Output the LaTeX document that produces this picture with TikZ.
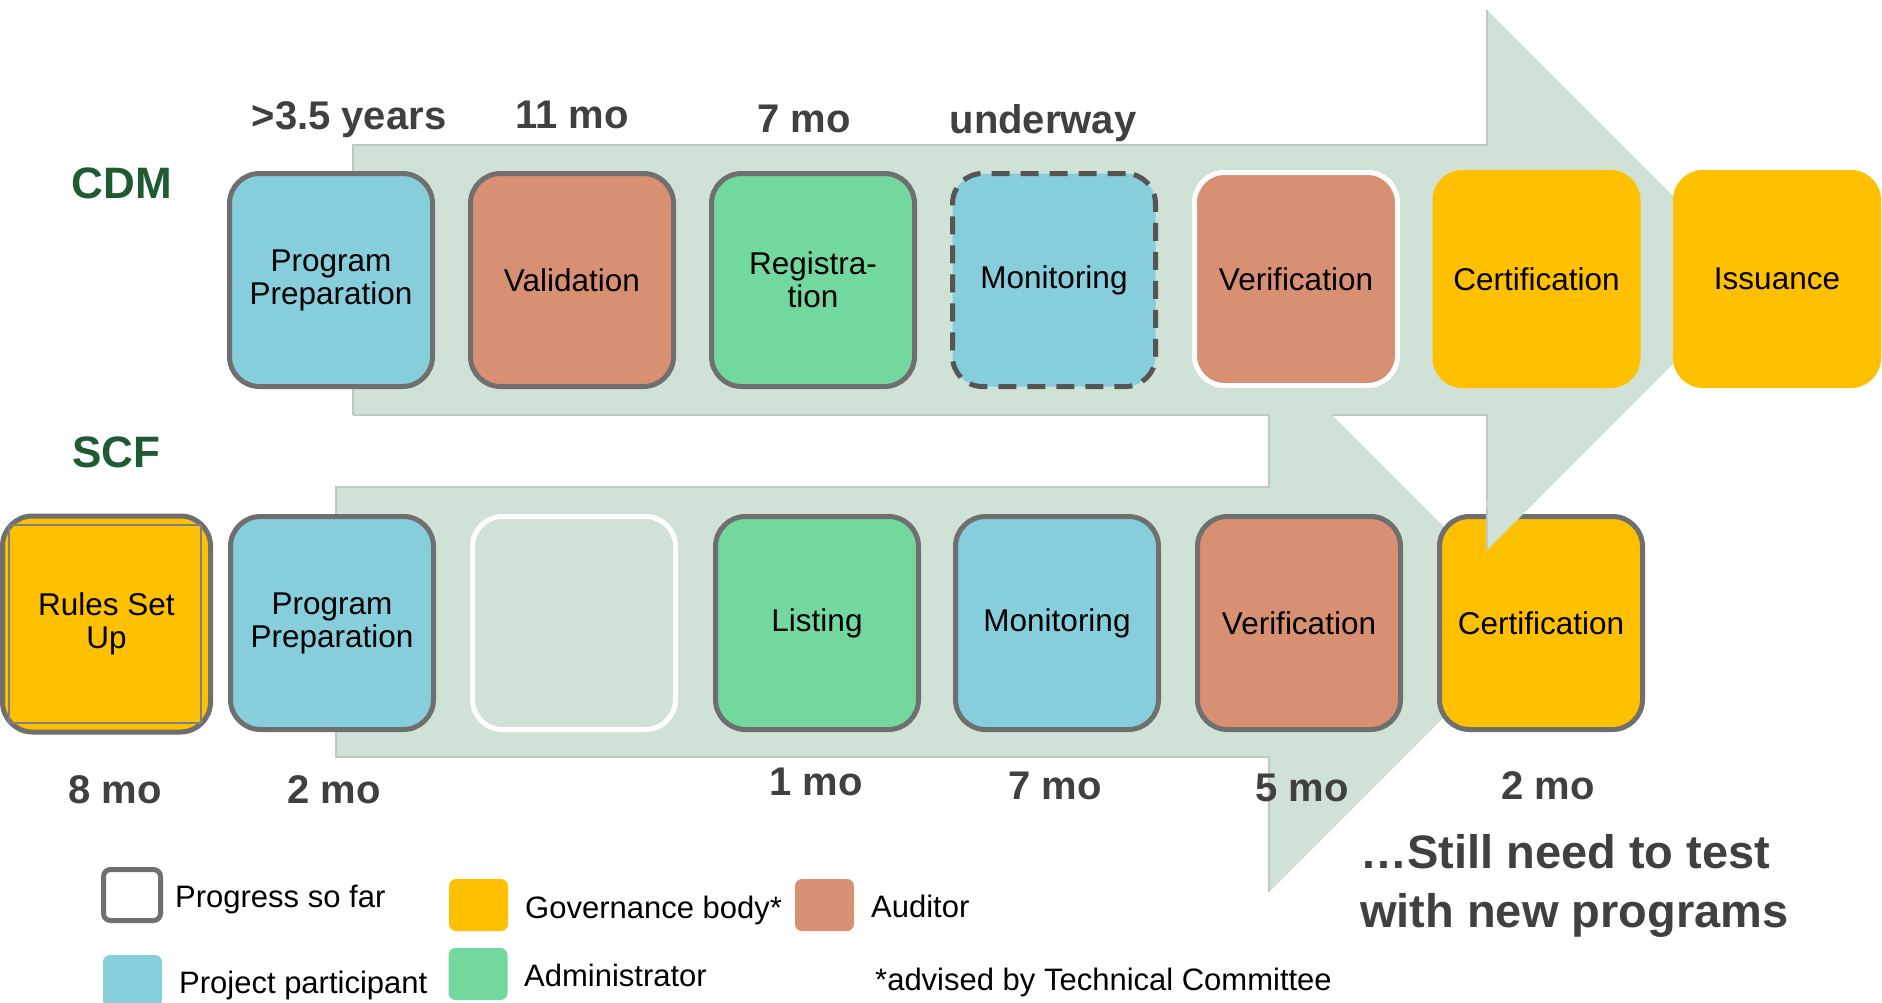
\documentclass[tikz,border=0pt]{standalone}
\usepackage{fontspec}
\setmainfont{Liberation Sans}
\definecolor{pblue}{HTML}{86CEDB}
\definecolor{salmon}{HTML}{D89072}
\definecolor{agreen}{HTML}{73D89D}
\definecolor{gold}{HTML}{FFC000}
\definecolor{arrowfill}{HTML}{CFE2D5}
\definecolor{arrowline}{HTML}{BCCAC1}
\definecolor{bordergray}{HTML}{6F6F6F}
\definecolor{dashgray}{HTML}{555555}
\definecolor{labelgray}{HTML}{404040}
\definecolor{cdmgreen}{HTML}{1E5A32}
\definecolor{innergray}{HTML}{808080}
\tikzset{
  box/.style={rounded corners=30pt, minimum width=203pt, minimum height=213pt,
    inner sep=0pt, align=center, font=\fontsize{31.5}{33}\selectfont, text=black},
  grayb/.style={draw=bordergray, line width=5pt},
  whiteb/.style={draw=white, line width=5pt},
  dashb/.style={draw=dashgray, line width=5pt, dash pattern=on 18pt off 11pt},
  nob/.style={minimum width=208pt, minimum height=218pt},
  dur/.style={font=\bfseries\fontsize{40}{44}\selectfont, text=labelgray, anchor=base, inner sep=0pt},
  rowlab/.style={font=\bfseries\fontsize{44}{48}\selectfont, text=cdmgreen, anchor=base, inner sep=0pt},
  note/.style={font=\bfseries\fontsize{47}{52}\selectfont, text=labelgray, anchor=base west, inner sep=0pt},
  legtext/.style={font=\fontsize{31}{34}\selectfont, text=black, anchor=base west, inner sep=0pt},
  legbox/.style={rounded corners=7pt, inner sep=0pt, minimum width=59pt, minimum height=52pt},
  aline/.style={draw=arrowline, line width=1.2pt},
}
\begin{document}
\begin{tikzpicture}[x=1pt,y=-1pt]
\useasboundingbox (0,0) rectangle (1882,1002);
\fill[white] (0,0) rectangle (1882,1002);

% big arrows
\fill[arrowfill] (353,145) -- (1487,145) -- (1487,10) -- (1757,280) -- (1487,550) -- (1487,415) -- (353,415) -- cycle;
\fill[arrowfill] (336,487) -- (1269,487) -- (1269,352) -- (1539,622) -- (1269,892) -- (1269,757) -- (336,757) -- cycle;
\draw[aline] (353,415) -- (353,145) -- (1487,145) -- (1487,10);
\draw[aline] (353,415) -- (1269,415);
\draw[aline] (1332,415) -- (1487,415) -- (1487,550);
\draw[aline] (1269,415) -- (1269,487) -- (336,487) -- (336,757) -- (1269,757) -- (1269,892);

% SCF row
\node[box, grayb, fill=gold, minimum width=208pt, minimum height=216pt] (s1) at (106.5,624) {Rules Set\\Up};
\draw[innergray, line width=1.5pt] (9,525) rectangle (201,723);
\node[box, grayb, fill=pblue] (s2) at (332,623) {Program\\Preparation};
\node[box, whiteb] (s3) at (574,623) {};
\node[box, grayb, fill=agreen] (s4) at (817,623) {Listing};
\node[box, grayb, fill=pblue] (s5) at (1057,623) {Monitoring};
\node[box, grayb, fill=salmon] (s6) at (1299,623) {Verification};
\node[box, grayb, fill=gold] (s7) at (1541,623) {Certification};

% top arrowhead corner overlapping the SCF certification box
\fill[arrowfill] (1487,500) -- (1537,500) -- (1487,550) -- cycle;
\draw[aline] (1487,508) -- (1487,550);

% CDM row
\node[box, grayb, fill=pblue] (c1) at (331,280) {Program\\Preparation};
\node[box, grayb, fill=salmon] (c2) at (572,280) {Validation};
\node[box, grayb, fill=agreen] (c3) at (813,280) {Registra-\\tion};
\node[box, dashb, fill=pblue] (c4) at (1054,280) {Monitoring};
\node[box, whiteb, fill=salmon] (c5) at (1296,279) {Verification};
\node[box, nob, fill=gold] (c6) at (1536.5,279) {Certification};
\node[box, nob, fill=gold] (c7) at (1777,279) {Issuance};

% row labels
\node[rowlab] (cdm) at (122,198) {CDM};
\node[rowlab] (scf) at (116,467) {SCF};

% durations
\node[dur] (d1) at (349,129) {>3.5 years};
\node[dur] (d2) at (572,128) {11 mo};
\node[dur] (d3) at (804,132) {7 mo};
\node[dur] (d4) at (1043,133) {underway};
\node[dur] (e1) at (115,803) {8 mo};
\node[dur] (e2) at (334,803) {2 mo};
\node[dur] (e3) at (816,795) {1 mo};
\node[dur] (e4) at (1055,799) {7 mo};
\node[dur] (e5) at (1302,801) {5 mo};
\node[dur] (e6) at (1548,799) {2 mo};

% note
\node[note] (n1) at (1360,868) {…Still need to test};
\node[note] (n2) at (1360,927) {with new programs};

% legend
\node[legbox, draw=bordergray, line width=5pt, fill=white, minimum width=57pt, minimum height=51pt] (lg1) at (132,895) {};
\node[legtext] (lt1) at (175,907) {Progress so far};
\node[legbox, fill=gold] (lg2) at (478.5,905) {};
\node[legtext] (lt2) at (525,918) {Governance body*};
\node[legbox, fill=salmon] (lg3) at (824.5,905) {};
\node[legtext] (lt3) at (871,917) {Auditor};
\node[legbox, fill=pblue] (lg4) at (132.5,981) {};
\node[legtext] (lt4) at (179,993) {Project participant};
\node[legbox, fill=agreen] (lg5) at (478,974) {};
\node[legtext] (lt5) at (524,986) {Administrator};
\node[legtext] (lt6) at (875,990) {*advised by Technical Committee};
\end{tikzpicture}
\end{document}
